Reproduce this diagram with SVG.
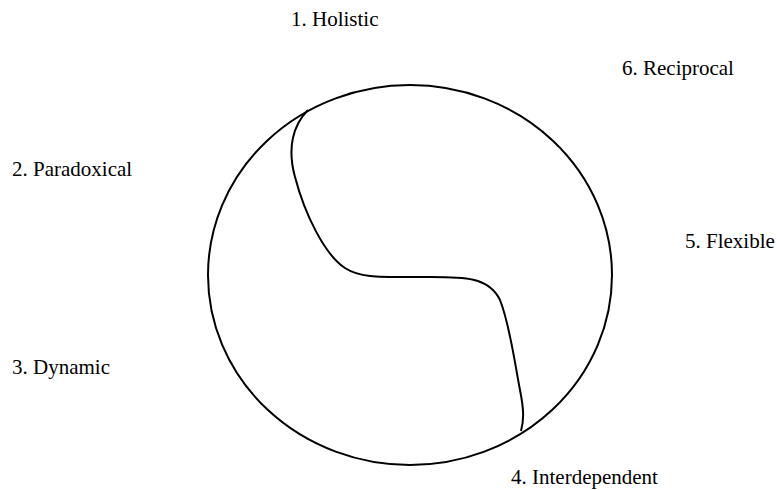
<svg xmlns="http://www.w3.org/2000/svg" width="777" height="490" viewBox="0 0 777 490">
<style>
.lbl{font-family:"Liberation Serif","Times New Roman",serif;font-size:21px;fill:#000}
.ln{fill:none;stroke:#000;stroke-width:2}
</style>
<rect width="777" height="490" fill="#fff"/>
<g id="circle"><ellipse class="ln" cx="410" cy="275" rx="202" ry="190"/></g>
<g id="connectors"><path class="ln" d="M308,110 C293,125 287,148 295,177 C305,215 325,255 345,268 C360,278 380,277 420,277 C460,277 488,275 500,300 C510,325 515,365 520,390 C524,410 524,420 521,431"/></g>
<g id="n1"><text class="lbl" x="291" y="26">1. Holistic</text></g>
<g id="n2"><text class="lbl" x="12" y="176">2. Paradoxical</text></g>
<g id="n3"><text class="lbl" x="12" y="374">3. Dynamic</text></g>
<g id="n4"><text class="lbl" x="511" y="484">4. Interdependent</text></g>
<g id="n5"><text class="lbl" x="685" y="248">5. Flexible</text></g>
<g id="n6"><text class="lbl" x="622" y="75">6. Reciprocal</text></g>
</svg>
